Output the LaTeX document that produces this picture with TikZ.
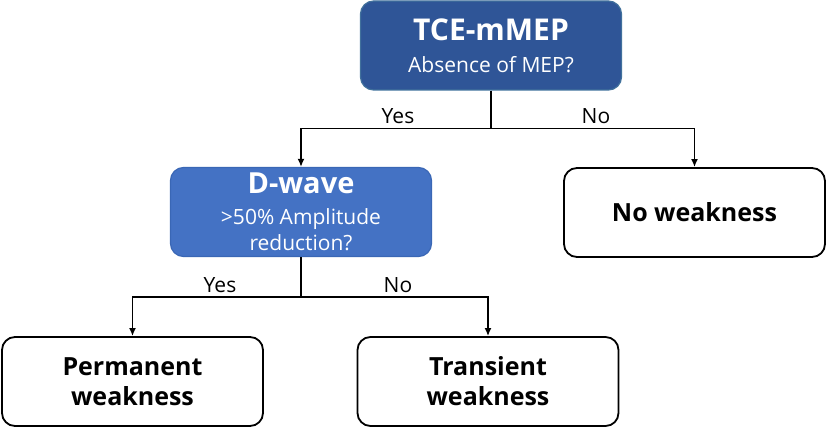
\documentclass[tikz,border=0pt]{standalone}
\usepackage{fontspec}
\setmainfont{Open Sans}
\usepackage{tikz}
\usetikzlibrary{arrows.meta}
\definecolor{topblue}{HTML}{2F5597}
\definecolor{topedge}{HTML}{41719C}
\definecolor{midblue}{HTML}{4472C4}
\definecolor{midedge}{HTML}{3A67B5}

\begin{document}
\begin{tikzpicture}[x=1pt,y=1pt,
  qbox/.style={rectangle,rounded corners=13pt,minimum width=261pt,minimum height=89pt,
    align=center,text=white,line width=1.2pt,font=\fontsize{21}{26}\selectfont},
  endbox/.style={rectangle,rounded corners=13pt,minimum width=261pt,minimum height=89pt,
    align=center,draw=black,fill=white,line width=1.8pt,
    font=\fontsize{25}{30}\selectfont\bfseries},
  link/.style={line width=1.6pt,-{Latex[length=8pt,width=7pt]}},
  lbl/.style={font=\fontsize{21}{24}\selectfont}]
\useasboundingbox (0,0) rectangle (827,-427);
% questions
\node[qbox,fill=topblue,draw=topedge] (mmep) at (491,-45.5)
  {{\fontsize{30}{30}\selectfont\bfseries TCE-mMEP}\\[6pt]Absence of MEP?};
\node[qbox,fill=midblue,draw=midedge] (dwave) at (301,-212)
  {{\fontsize{29}{29}\selectfont\bfseries D-wave}\\[5pt]>50\% Amplitude\\reduction?};
% outcomes
\node[endbox] (nowk) at (694.5,-212.5) {No weakness};
\node[endbox] (perm) at (132.5,-381.5) {Permanent\\weakness};
\node[endbox] (trans) at (488,-381.5) {Transient\\weakness};
% connectors
\draw[line width=1.6pt] (mmep.south) -- ++(0,-38) coordinate (split1);
\draw[link] (split1) -| (dwave.north);
\draw[link] (split1) -| (nowk.north);
\draw[line width=1.6pt] (dwave.south) -- ++(0,-40) coordinate (split2);
\draw[link] (split2) -| (perm.north);
\draw[link] (split2) -| (trans.north);
% answers
\node[lbl] (yes1) at (398,-116) {Yes};
\node[lbl] (no1) at (596,-116) {No};
\node[lbl] (yes2) at (220,-285) {Yes};
\node[lbl] (no2) at (398,-285) {No};
\end{tikzpicture}
\end{document}
